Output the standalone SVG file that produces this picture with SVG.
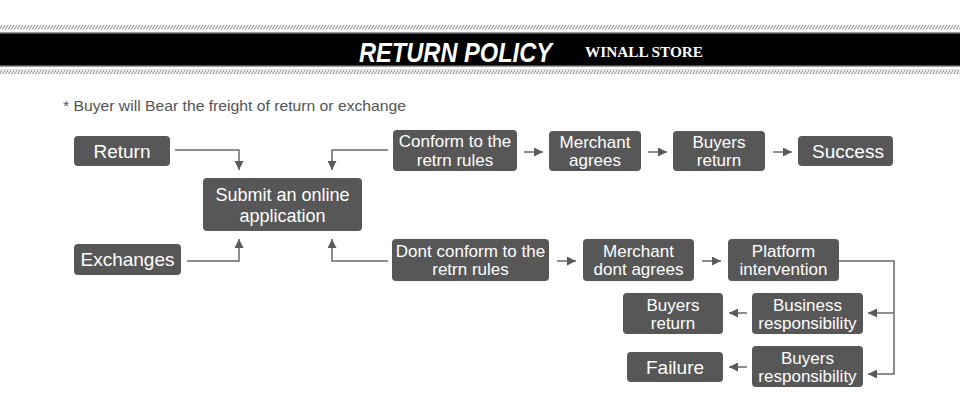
<svg xmlns="http://www.w3.org/2000/svg" width="960" height="420" viewBox="0 0 960 420">
<defs>
<pattern id="hatch" width="3" height="5" patternUnits="userSpaceOnUse">
<rect width="3" height="5" fill="#ffffff"/>
<path d="M-1,5 L2,0 M2,5 L5,0" stroke="#9a9a9a" stroke-width="1.1"/>
</pattern>
<marker id="ah" viewBox="0 0 10 10" refX="10" refY="5" markerWidth="9" markerHeight="9" markerUnits="userSpaceOnUse" orient="auto">
<path d="M0,0 L10,5 L0,10 Z" fill="#5a5a5a"/>
</marker>
<style>
.box{fill:#575757;}
.t{font-family:"Liberation Sans",Arial,sans-serif;fill:#ffffff;text-anchor:middle;}
.c{fill:none;stroke:#6a6a6a;stroke-width:1.5;marker-end:url(#ah);}
</style>
</defs>
<rect width="960" height="420" fill="#ffffff"/>
<g id="header">
<rect x="0" y="25" width="960" height="4.5" fill="url(#hatch)"/>
<rect x="0" y="32" width="960" height="35" fill="#9a9a9a"/>
<rect x="0" y="33.5" width="960" height="32" fill="#000000"/>
<rect x="0" y="69.5" width="960" height="4.5" fill="url(#hatch)"/>
<text x="359" y="61.5" font-family="Liberation Sans,Arial,sans-serif" font-size="28" font-weight="bold" font-style="italic" fill="#ffffff" textLength="193" lengthAdjust="spacingAndGlyphs">RETURN POLICY</text>
<text x="585" y="57" font-family="Liberation Serif,Times New Roman,serif" font-size="15" font-weight="bold" fill="#ffffff" textLength="118" lengthAdjust="spacingAndGlyphs">WINALL STORE</text>
</g>
<text x="63" y="110.5" font-family="Liberation Sans,Arial,sans-serif" font-size="14.5" fill="#555555" textLength="343" lengthAdjust="spacingAndGlyphs">* Buyer will Bear the freight of return or exchange</text>
<g id="connectors">
<path class="c" d="M175,150 H239 V170"/>
<path class="c" d="M388,150 H332 V170"/>
<path class="c" d="M187,261 H239 V239"/>
<path class="c" d="M388,261 H332 V239"/>
<path class="c" d="M524,152 H543"/>
<path class="c" d="M648,152 H667"/>
<path class="c" d="M773,152 H792"/>
<path class="c" d="M557,261 H576"/>
<path class="c" d="M702,261 H721"/>
<path class="c" d="M839,261 H894 V374 H868"/>
<path class="c" d="M894,313 H868"/>
<path class="c" d="M747,313 H729"/>
<path class="c" d="M747,367 H729"/>
</g>
<g id="return"><rect class="box" x="74" y="136" width="96" height="30" rx="4"/><text class="t" x="122" y="158" font-size="19">Return</text></g>
<g id="exchanges"><rect class="box" x="74" y="244" width="107" height="31" rx="4"/><text class="t" x="127.5" y="266" font-size="19">Exchanges</text></g>
<g id="submit"><rect class="box" x="203" y="178" width="159" height="53" rx="4"/><text class="t" x="282.5" font-size="18"><tspan x="282.5" y="201">Submit an online</tspan><tspan x="282.5" y="222">application</tspan></text></g>
<g id="conform"><rect class="box" x="393" y="130" width="124" height="41" rx="4"/><text class="t" x="455" font-size="17"><tspan x="455" y="147">Conform to the</tspan><tspan x="455" y="166">retrn rules</tspan></text></g>
<g id="merchant-agrees"><rect class="box" x="549" y="131" width="92" height="40" rx="4"/><text class="t" x="595" font-size="17"><tspan x="595" y="148">Merchant</tspan><tspan x="595" y="166">agrees</tspan></text></g>
<g id="buyers-return-1"><rect class="box" x="673" y="131" width="92" height="40" rx="4"/><text class="t" x="719" font-size="17"><tspan x="719" y="148">Buyers</tspan><tspan x="719" y="166">return</tspan></text></g>
<g id="success"><rect class="box" x="798" y="136" width="95" height="30" rx="4"/><text class="t" x="848" y="158" font-size="19">Success</text></g>
<g id="dont-conform"><rect class="box" x="392" y="239" width="157" height="42" rx="4"/><text class="t" x="470.5" font-size="17"><tspan x="470.5" y="257">Dont conform to the</tspan><tspan x="470.5" y="275">retrn rules</tspan></text></g>
<g id="merchant-dont"><rect class="box" x="583" y="239" width="111" height="42" rx="4"/><text class="t" x="638.5" font-size="17"><tspan x="638.5" y="257">Merchant</tspan><tspan x="638.5" y="275">dont agrees</tspan></text></g>
<g id="platform"><rect class="box" x="728" y="239" width="111" height="42" rx="4"/><text class="t" x="783.5" font-size="17"><tspan x="783.5" y="257">Platform</tspan><tspan x="783.5" y="275">intervention</tspan></text></g>
<g id="buyers-return-2"><rect class="box" x="623" y="293" width="100" height="41" rx="4"/><text class="t" x="673" font-size="17"><tspan x="673" y="311">Buyers</tspan><tspan x="673" y="329">return</tspan></text></g>
<g id="business-resp"><rect class="box" x="752" y="293" width="111" height="41" rx="4"/><text class="t" x="807.5" font-size="17"><tspan x="807.5" y="311">Business</tspan><tspan x="807.5" y="329">responsibility</tspan></text></g>
<g id="failure"><rect class="box" x="627" y="352" width="96" height="30" rx="4"/><text class="t" x="675" y="374" font-size="19">Failure</text></g>
<g id="buyers-resp"><rect class="box" x="752" y="346" width="111" height="41" rx="4"/><text class="t" x="807.5" font-size="17"><tspan x="807.5" y="364">Buyers</tspan><tspan x="807.5" y="382">responsibility</tspan></text></g>
</svg>
